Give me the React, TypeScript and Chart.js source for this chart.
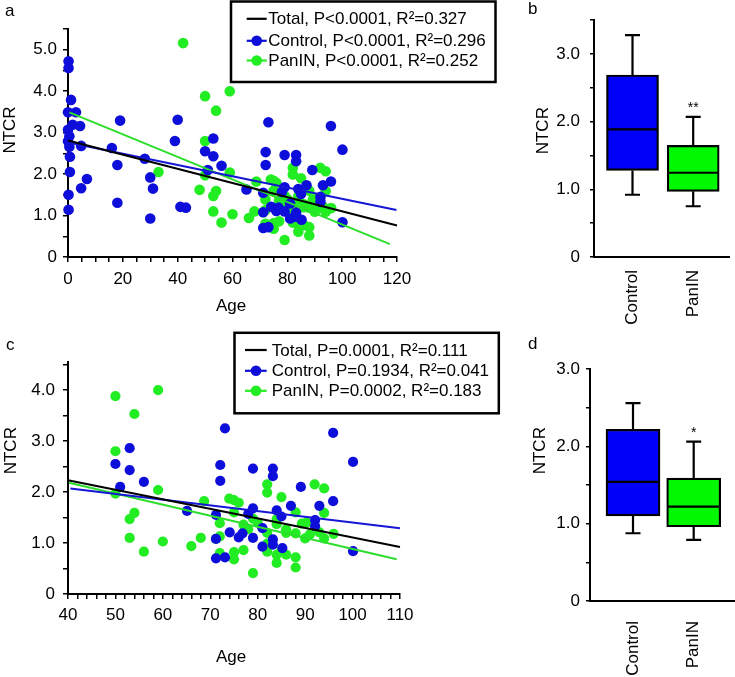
import React, { useEffect, useRef } from 'react';
import { Chart, registerables } from 'chart.js';
Chart.register(...registerables);

const FONT = "'Liberation Sans', Arial, Helvetica, sans-serif";
const BLUE_PT = 'rgb(14,14,218)';
const GREEN_PT = 'rgb(34,236,34)';
const BLUE_BOX = 'rgb(0,0,248)';
const GREEN_BOX = 'rgb(0,248,0)';
const BLUE_LINE = 'rgb(22,22,214)';
const GREEN_LINE = 'rgb(44,222,44)';

// ---------- Scatter data (panels a and c) ----------
const controlAge = [
  0.2, 0.2, 1.1, 0, 2.9, 1.7, 4.4, 0, 0.5, 0, 0.5, 4.8, 0.7, 0.7, 0.2, 0.2, 6.9, 4.8, 19, 16,
  18, 18, 28, 30, 31, 30, 40, 39, 41, 43,
  50, 51, 53, 53, 56, 65.1, 71.2, 71.2, 71.2, 72.1, 72.1, 73.1, 73.1, 74.1, 76, 76.8, 78, 79, 79, 79,
  81, 81, 83.2, 83.2, 83.2, 83.2, 84, 85, 85.2, 87, 89.1, 92.1, 92.1, 93, 95.9, 95.9, 100.1, 100.1,
];
const controlNTCR = [
  4.72, 4.56, 3.79, 3.49, 3.49, 3.19, 3.16, 3.07, 2.91, 2.79, 2.66, 2.68, 2.42, 2.05, 1.5, 1.14, 1.88, 1.66, 3.29, 2.63,
  2.22, 1.31, 2.37, 1.92, 1.65, 0.93, 3.31, 2.8, 1.21, 1.19,
  2.55, 2.1, 2.86, 2.43, 2.2, 1.63, 1.55, 1.08, 0.7, 2.53, 2.22, 3.25, 0.72, 1.21, 1.11, 1.19, 1.57, 1.68, 2.46, 1.1,
  1.29, 0.93, 2.46, 2.31, 1.07, 0.97, 1.64, 1.52, 0.9, 1.73, 2.1, 1.45, 1.33, 1.73, 3.16, 1.82, 2.59, 0.84,
];
const paninAge = [
  42, 33, 48,
  50, 59, 54, 50, 50, 59, 54, 53, 53, 56, 60, 66, 68, 68.7, 72, 72, 71.2, 72, 74, 75,
  76, 75, 75, 75, 77, 77, 78, 79, 79, 80, 82, 82, 82, 82, 82, 84, 84, 84, 84, 85,
  85, 86, 86, 86, 88, 88, 88, 88, 89.3, 90.3, 90, 91, 92, 93, 94, 94, 94, 96,
];
const paninNTCR = [
  5.16, 2.05, 1.62,
  3.88, 4.0, 3.53, 2.8, 1.97, 2.04, 1.59, 1.47, 1.1, 0.83, 1.03, 0.94, 1.1, 1.82, 1.39, 1.13, 1.08, 0.8, 1.87, 1.84,
  1.79, 1.6, 0.82, 0.68, 1.36, 0.86, 1.27, 1.48, 0.41, 1.4, 2.15, 1.99, 1.2, 0.99, 0.83, 1.47, 1.37, 0.77, 0.61, 1.9,
  0.86, 1.27, 1.2, 0.77, 1.6, 1.19, 0.72, 0.52, 1.38, 1.4, 1.09, 1.17, 2.15, 1.21, 2.07, 1.59, 1.09, 1.18,
];
const minAgeC = 50;

// Regression lines (end points)
const totalFitAgeA = [0, 120];
const totalFitA = [2.81, 0.76];
const controlFitAgeA = [1, 119.8];
const controlFitA = [2.75, 1.135];
const paninFitAgeA = [0.5, 117.4];
const paninFitA = [3.49, 0.31];
const totalFitAgeC = [40, 110];
const totalFitC = [2.23, 0.92];
const controlFitAgeC = [40.5, 110];
const controlFitC = [2.07, 1.29];
const paninFitAgeC = [40.2, 109.3];
const paninFitC = [2.18, 0.68];

const legendA = ['Total, P<0.0001, R\u00B2=0.327', 'Control, P<0.0001, R\u00B2=0.296', 'PanIN, P<0.0001, R\u00B2=0.252'];
const legendC = ['Total, P=0.0001, R\u00B2=0.111', 'Control, P=0.1934, R\u00B2=0.041', 'PanIN, P=0.0002, R\u00B2=0.183'];

// ---------- Box plot data (panels b and d) ----------
const groups = ['Control', 'PanIN'];
const boxBMin = [0.92, 0.75];
const boxBQ1 = [1.28, 0.97];
const boxBMed = [1.885, 1.245];
const boxBQ3 = [2.69, 1.65];
const boxBMax = [3.28, 2.07];
const sigB = ['', '**'];
const boxDMin = [0.876, 0.79];
const boxDQ1 = [1.1, 0.96];
const boxDMed = [1.54, 1.22];
const boxDQ3 = [2.22, 1.59];
const boxDMax = [2.56, 2.06];
const sigD = ['', '*'];

type TextItem = { text: string; x: number; y: number; size: number; rot?: number; align?: CanvasTextAlign };
type LegendSpec = {
  box: [number, number, number, number];
  lineX: [number, number];
  dotX: number;
  textX: number;
  rows: number[];
  labels: string[];
  colors: string[];
  dots: boolean[];
};

function overlayPlugin(texts: TextItem[], legend?: LegendSpec) {
  return {
    id: 'overlay',
    afterDraw(chart: any) {
      const ctx = chart.ctx as CanvasRenderingContext2D;
      ctx.save();
      ctx.fillStyle = '#000';
      texts.forEach((t) => {
        ctx.save();
        ctx.font = `${t.size}px ${FONT}`;
        ctx.textAlign = t.align || 'center';
        ctx.textBaseline = 'alphabetic';
        ctx.translate(t.x, t.y);
        if (t.rot) ctx.rotate(t.rot);
        ctx.fillText(t.text, 0, 0.358 * t.size);
        ctx.restore();
      });
      if (legend) {
        const [x0, y0, x1, y1] = legend.box;
        ctx.strokeStyle = '#000';
        ctx.lineWidth = 2.5;
        ctx.strokeRect(x0, y0, x1 - x0, y1 - y0);
        legend.rows.forEach((ry, i) => {
          ctx.strokeStyle = legend.colors[i];
          ctx.lineWidth = 2.2;
          ctx.beginPath();
          ctx.moveTo(legend.lineX[0], ry + 0.5);
          ctx.lineTo(legend.lineX[1], ry + 0.5);
          ctx.stroke();
          if (legend.dots[i]) {
            ctx.fillStyle = legend.colors[i];
            ctx.beginPath();
            ctx.arc(legend.dotX, ry + 0.5, 5.3, 0, Math.PI * 2);
            ctx.fill();
          }
          ctx.fillStyle = '#000';
          ctx.font = `17px ${FONT}`;
          ctx.textAlign = 'left';
          ctx.textBaseline = 'alphabetic';
          ctx.fillText(legend.labels[i], legend.textX, ry + 6.1);
        });
      }
      ctx.restore();
    },
  };
}

function boxPlugin(mins: number[], q1: number[], med: number[], q3: number[], maxs: number[], sig: string[], halfW: number) {
  return {
    id: 'boxparts',
    afterDatasetsDraw(chart: any) {
      const ctx = chart.ctx as CanvasRenderingContext2D;
      const xs = chart.scales.x;
      const ys = chart.scales.y;
      ctx.save();
      ctx.strokeStyle = '#000';
      ctx.lineWidth = 2.2;
      for (let i = 0; i < mins.length; i++) {
        const x = xs.getPixelForValue(i + 1);
        const pMin = ys.getPixelForValue(mins[i]);
        const pQ1 = ys.getPixelForValue(q1[i]);
        const pMed = ys.getPixelForValue(med[i]);
        const pQ3 = ys.getPixelForValue(q3[i]);
        const pMax = ys.getPixelForValue(maxs[i]);
        ctx.beginPath();
        ctx.moveTo(x, pQ3);
        ctx.lineTo(x, pMax);
        ctx.moveTo(x - 7.5, pMax);
        ctx.lineTo(x + 7.5, pMax);
        ctx.moveTo(x, pQ1);
        ctx.lineTo(x, pMin);
        ctx.moveTo(x - 7.5, pMin);
        ctx.lineTo(x + 7.5, pMin);
        ctx.moveTo(x - halfW + 1, pMed);
        ctx.lineTo(x + halfW - 1, pMed);
        ctx.stroke();
        if (sig[i]) {
          ctx.fillStyle = '#000';
          ctx.font = `14px ${FONT}`;
          ctx.textAlign = 'center';
          ctx.textBaseline = 'alphabetic';
          ctx.fillText(sig[i], x, pMax - 13 + 8);
        }
      }
      ctx.restore();
    },
  };
}

const tickFont = { family: FONT, size: 17 };
const yLabel = (v: number) => (v === 0 ? '0' : Math.abs(v - Math.round(v)) < 1e-9 ? v.toFixed(1) : '');

function pts(ages: number[], vals: number[], minAge: number) {
  const out: { x: number; y: number }[] = [];
  ages.forEach((a, i) => {
    if (a >= minAge) out.push({ x: a, y: vals[i] });
  });
  return out;
}
function seg(ages: number[], vals: number[]) {
  return ages.map((a, i) => ({ x: a, y: vals[i] }));
}

type ScatterSpec = {
  minAge: number;
  xMin: number; xMax: number; xStep: number; xLabelEvery: number;
  yMax: number;
  padTop: number; padRight: number; yWidth: number; xHeight: number;
  xPad: number; yPad: number; r: number;
  fits: [number[], number[], number[], number[], number[], number[]];
  texts: TextItem[];
  legend: LegendSpec;
};

function scatterConfig(s: ScatterSpec): any {
  const [tA, tV, cA, cV, pA, pV] = s.fits;
  return {
    type: 'scatter',
    data: {
      datasets: [
        { data: seg(tA, tV), showLine: true, borderColor: '#000', borderWidth: 2, pointRadius: 0, clip: false },
        { data: seg(cA, cV), showLine: true, borderColor: BLUE_LINE, borderWidth: 2, pointRadius: 0, clip: false },
        { data: seg(pA, pV), showLine: true, borderColor: GREEN_LINE, borderWidth: 2, pointRadius: 0, clip: false },
        { data: pts(controlAge, controlNTCR, s.minAge), backgroundColor: BLUE_PT, borderWidth: 0, pointRadius: s.r, clip: false },
        { data: pts(paninAge, paninNTCR, s.minAge), backgroundColor: GREEN_PT, borderWidth: 0, pointRadius: s.r, clip: false },
      ],
    },
    options: {
      responsive: false,
      animation: false,
      devicePixelRatio: 1,
      events: [],
      layout: { padding: { left: 0, top: s.padTop, right: s.padRight, bottom: 0 } },
      plugins: { legend: { display: false }, tooltip: { enabled: false } },
      scales: {
        x: {
          type: 'linear',
          min: s.xMin,
          max: s.xMax,
          afterFit: (sc: any) => { sc.height = s.xHeight; },
          ticks: {
            stepSize: s.xStep,
            autoSkip: false,
            maxRotation: 0,
            padding: s.xPad,
            color: '#000',
            font: tickFont,
            callback: (v: number) => (Math.abs(v % s.xLabelEvery) < 1e-9 ? String(v) : ''),
          },
          grid: { drawOnChartArea: false, drawTicks: true, tickLength: 5, color: '#000', lineWidth: 1.5, tickWidth: 1.5 },
          border: { color: '#000', width: 2 },
        },
        y: {
          type: 'linear',
          min: 0,
          max: s.yMax,
          afterFit: (sc: any) => { sc.width = s.yWidth; },
          ticks: { stepSize: 0.5, includeBounds: false, autoSkip: false, padding: s.yPad, color: '#000', font: tickFont, callback: yLabel },
          grid: { drawOnChartArea: false, drawTicks: true, tickLength: 5, color: '#000', lineWidth: 1.5, tickWidth: 1.5 },
          border: { color: '#000', width: 2 },
        },
      },
    },
    plugins: [overlayPlugin(s.texts, s.legend)],
  };
}

type BoxSpec = {
  mins: number[]; q1: number[]; med: number[]; q3: number[]; maxs: number[]; sig: string[];
  yMax: number; xMin: number; xMax: number; thick: number;
  padTop: number; padRight: number; yWidth: number; xHeight: number; yPad: number; xPad: number;
  texts: TextItem[];
};

function boxConfig(b: BoxSpec): any {
  return {
    type: 'bar',
    data: {
      datasets: [
        {
          data: groups.map((_, i) => ({ x: i + 1, y: [b.q1[i], b.q3[i]] })),
          backgroundColor: [BLUE_BOX, GREEN_BOX],
          borderColor: '#000',
          borderWidth: 2.2,
          borderSkipped: false,
          barThickness: b.thick,
        },
      ],
    },
    options: {
      responsive: false,
      animation: false,
      devicePixelRatio: 1,
      events: [],
      layout: { padding: { left: 0, top: b.padTop, right: b.padRight, bottom: 0 } },
      plugins: { legend: { display: false }, tooltip: { enabled: false } },
      scales: {
        x: {
          type: 'linear',
          min: b.xMin,
          max: b.xMax,
          offset: false,
          afterFit: (sc: any) => { sc.height = b.xHeight; },
          afterBuildTicks: (sc: any) => { sc.ticks = groups.map((_, i) => ({ value: i + 1 })); },
          ticks: {
            autoSkip: false,
            minRotation: 90,
            maxRotation: 90,
            padding: b.xPad,
            color: '#000',
            font: tickFont,
            callback: (v: number) => groups[Math.round(v) - 1] || '',
          },
          grid: { drawOnChartArea: false, drawTicks: false },
          border: { color: '#000', width: 2 },
        },
        y: {
          type: 'linear',
          min: 0,
          max: b.yMax,
          afterFit: (sc: any) => { sc.width = b.yWidth; },
          ticks: { stepSize: 0.5, autoSkip: false, padding: b.yPad, color: '#000', font: tickFont, callback: yLabel },
          grid: { drawOnChartArea: false, drawTicks: true, tickLength: 4, color: '#000', lineWidth: 1.5, tickWidth: 1.5 },
          border: { color: '#000', width: 2 },
        },
      },
    },
    plugins: [boxPlugin(b.mins, b.q1, b.med, b.q3, b.maxs, b.sig, b.thick / 2), overlayPlugin(b.texts)],
  };
}

function ChartCanvas(props: { left: number; top: number; width: number; height: number; make: () => any }) {
  const ref = useRef<HTMLCanvasElement | null>(null);
  useEffect(() => {
    const chart = new Chart(ref.current as HTMLCanvasElement, props.make());
    return () => chart.destroy();
  }, []);
  return (
    <canvas
      ref={ref}
      width={props.width}
      height={props.height}
      style={{ position: 'absolute', left: props.left, top: props.top, width: props.width, height: props.height }}
    />
  );
}

const R90 = -Math.PI / 2;

const specA: ScatterSpec = {
  minAge: -1,
  xMin: 0, xMax: 120, xStep: 5, xLabelEvery: 20,
  yMax: 5.5,
  padTop: 29, padRight: 113, yWidth: 68, xHeight: 63,
  xPad: 7, yPad: 6, r: 5.3,
  fits: [totalFitAgeA, totalFitA, controlFitAgeA, controlFitA, paninFitAgeA, paninFitA],
  texts: [
    { text: 'a', x: 5, y: 10, size: 17, align: 'left' },
    { text: 'NTCR', x: 9, y: 130, size: 17, rot: R90 },
    { text: 'Age', x: 231, y: 305, size: 17 },
  ],
  legend: {
    box: [231, 1.5, 495.5, 82],
    lineX: [246.7, 266.7],
    dotX: 256.7,
    textX: 268.3,
    rows: [18.3, 40.3, 60],
    labels: legendA,
    colors: ['#000', BLUE_PT, GREEN_PT],
    dots: [false, true, true],
  },
};

const specC: ScatterSpec = {
  minAge: minAgeC,
  xMin: 40, xMax: 110, xStep: 2, xLabelEvery: 10,
  yMax: 4.55,
  padTop: 42, padRight: 110, yWidth: 68, xHeight: 83,
  xPad: 6, yPad: 8, r: 5.1,
  fits: [totalFitAgeC, totalFitC, controlFitAgeC, controlFitC, paninFitAgeC, paninFitC],
  texts: [
    { text: 'c', x: 6, y: 23.5, size: 17, align: 'left' },
    { text: 'NTCR', x: 10, y: 130.7, size: 17, rot: R90 },
    { text: 'Age', x: 231, y: 336, size: 17 },
  ],
  legend: {
    box: [234.5, 12.8, 498.8, 93.3],
    lineX: [245, 266.7],
    dotX: 256,
    textX: 271.7,
    rows: [29.5, 50.3, 70.3],
    labels: legendC,
    colors: ['#000', BLUE_PT, GREEN_PT],
    dots: [false, true, true],
  },
};

const specB: BoxSpec = {
  mins: boxBMin, q1: boxBQ1, med: boxBMed, q3: boxBQ3, maxs: boxBMax, sig: sigB,
  yMax: 3.5, xMin: 0.3656, xMax: 2.59, thick: 52,
  padTop: 15, padRight: 6, yWidth: 84, xHeight: 83, yPad: 10, xPad: 13,
  texts: [
    { text: 'b', x: 18, y: 8, size: 17, align: 'left' },
    { text: 'NTCR', x: 31.7, y: 130.7, size: 17, rot: R90 },
  ],
};

const specD: BoxSpec = {
  mins: boxDMin, q1: boxDQ1, med: boxDMed, q3: boxDQ3, maxs: boxDMax, sig: sigD,
  yMax: 3.0, xMin: 0.2915, xMax: 2.664, thick: 54,
  padTop: 49, padRight: 1, yWidth: 80, xHeight: 76, yPad: 6, xPad: 20,
  texts: [
    { text: 'd', x: 18, y: 23, size: 17, align: 'left' },
    { text: 'NTCR', x: 29, y: 130.7, size: 17, rot: R90 },
  ],
};

export default function App() {
  return (
    <div style={{ position: 'absolute', left: 0, top: 0, width: 735, height: 677, background: '#fff', overflow: 'hidden' }}>
      <ChartCanvas left={0} top={0} width={510} height={320} make={() => scatterConfig(specA)} />
      <ChartCanvas left={0} top={320} width={510} height={357} make={() => scatterConfig(specC)} />
      <ChartCanvas left={510} top={0} width={225} height={340} make={() => boxConfig(specB)} />
      <ChartCanvas left={510} top={320} width={225} height={357} make={() => boxConfig(specD)} />
    </div>
  );
}
